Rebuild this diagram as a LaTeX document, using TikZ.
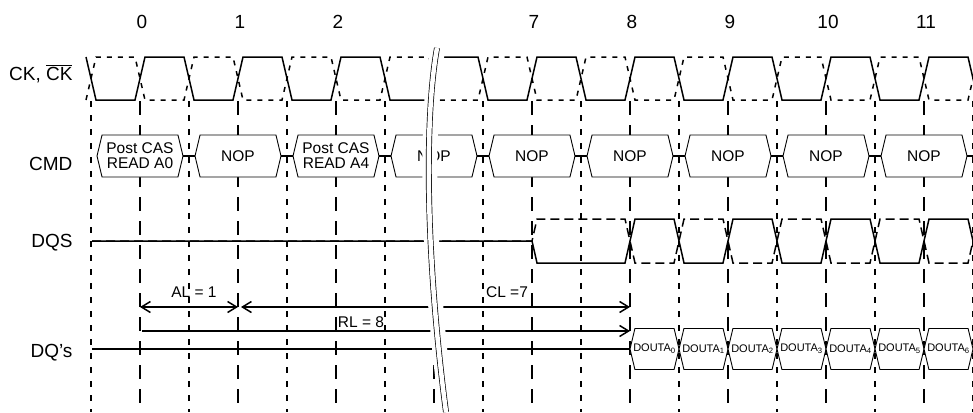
\documentclass[tikz,border=0pt]{standalone}
\usepackage{fontspec}
\setmainfont{Liberation Sans}
\usetikzlibrary{arrows.meta,shapes.symbols}

\begin{document}
\begin{tikzpicture}[
    x=1pt, y=-1pt,
    sig/.style={line width=1.5pt},
    sigbar/.style={sig, dash pattern=on 5pt off 6pt},
    strobebar/.style={sig, dash pattern=on 9pt off 5pt},
    cycline/.style={line width=1.6pt, dash pattern=on 14pt off 10pt},
    halfline/.style={line width=1.6pt, dash pattern=on 6pt off 8pt},
    signame/.style={font=\fontsize{19}{22}\selectfont, anchor=base east},
    num/.style={font=\fontsize{19}{22}\selectfont},
    cmdbox/.style={
      draw,
      fill=white,
      line width=0.9pt,
      shape=signal,
      signal to=east and west,
      signal pointer angle=153,
      minimum width=86pt,
      minimum height=42pt,
      inner xsep=0pt,
      inner ysep=0pt,
      align=center,
      font=\fontsize{15.5}{15}\selectfont
    },
    doutbox/.style={cmdbox, minimum width=49pt, minimum height=41pt,
      inner xsep=-4pt, font=\fontsize{11}{12}\selectfont},
    dim/.style={line width=1.5pt},
    dimlabel/.style={font=\fontsize{15.5}{18}\selectfont, anchor=base},
    breakline/.style={line width=0.7pt, double=white, double distance=4.5pt},
    >={Straight Barb[length=9pt,width=11pt]}
  ]
    \useasboundingbox (0,0) rectangle (973,412);

    \foreach \k/\n in {0/0,1/1,2/2,4/7,5/8,6/9,7/10,8/11}
      \node[num] (num\n) at ({142+98*\k},22) {\n};

    \node[signame] (lblck) at (76,80) {CK, $\overline{\mbox{CK}}$};
    \node[signame] (lblcmd) at (76,170) {CMD};
    \node[signame] (lbldqs) at (76,247) {DQS};
    \node[signame] (lbldq) at (76,357) {DQ’s};

    \foreach \k in {0,...,8}
      \draw[cycline] ({140+98*\k},101) -- ({140+98*\k},412);
    \foreach \k in {0,...,9}
      \draw[halfline] ({91+98*\k},101) -- ({91+98*\k},412);

    \draw[sig] (86,57) -- (96,100) \foreach \k in {0,...,8} {
      -- ({135+98*\k},100) -- ({145+98*\k},57) -- ({184+98*\k},57) -- ({194+98*\k},100) };
    \draw[sigbar] (86,100) -- (96,57) \foreach \k in {0,...,8} {
      -- ({135+98*\k},57) -- ({145+98*\k},100) -- ({184+98*\k},100) -- ({194+98*\k},57) };

    \draw[sig] (92,241) -- (532,241) -- (537,263) \foreach \k in {5,...,8} {
      -- ({135+98*\k},263) -- ({145+98*\k},219) -- ({184+98*\k},219) -- ({194+98*\k},263) };
    \draw[strobebar] (92,241) -- (532,241) -- (537,219) \foreach \k in {5,...,8} {
      -- ({135+98*\k},219) -- ({145+98*\k},263) -- ({184+98*\k},263) -- ({194+98*\k},219) };

    \foreach \k/\txt in {0/{Post CAS\\READ A0},1/NOP,2/{Post CAS\\READ A4},3/NOP,
                         4/NOP,5/NOP,6/NOP,7/NOP,8/NOP}
      \node[cmdbox] (cmd\k) at ({140+98*\k},156) {\txt};
    \foreach \k [count=\n from 1] in {0,...,7}
      \draw[sig] (cmd\k.east) -- (cmd\n.west);
    \coordinate (cmdend) at (973,156);
    \draw[sig] (cmd8.east) -- (cmdend);

    \foreach \i in {0,...,6}
      \node[doutbox] (dout\i) at ({654.5+49*\i},349) {DOUTA\textsubscript{\i}};
    \coordinate (dqstart) at (92,349);
    \draw[sig] (dqstart) -- (dout0.west);

    \coordinate (al0) at (140,307);
    \coordinate (al1) at (238,307);
    \coordinate (cl0) at (241,307);
    \coordinate (cl1) at (630,307);
    \coordinate (rl0) at (142,331);
    \coordinate (rl1) at (630,331);
    \draw[dim,<->] (al0) -- (al1);
    \draw[dim,<->] (cl0) -- (cl1);
    \draw[dim,->] (rl0) -- (rl1);
    \node[dimlabel] (allabel) at (194,297) {AL = 1};
    \node[dimlabel] (cllabel) at (507,297) {CL =7};
    \node[dimlabel] (rllabel) at (361,327) {RL = 8};

    \draw[white, line width=15pt] (438,48) .. controls (425,120) and (427,260) .. (447,412);
    \draw[breakline] (437,48) .. controls (424,120) and (426,260) .. (446,412);
  \end{tikzpicture}
\end{document}
